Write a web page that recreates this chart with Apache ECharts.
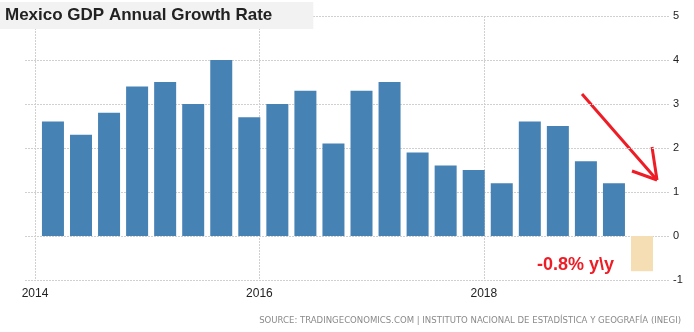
<!DOCTYPE html>
<html>
<head>
<meta charset="utf-8">
<script src="https://cdn.jsdelivr.net/npm/echarts@6/dist/echarts.min.js"></script>
<style>html,body{margin:0;padding:0;background:#fff;}#c{width:694px;height:332px;}</style>
</head>
<body>
<div id="c"></div>
<script>
var quarters = ['2014Q1','2014Q2','2014Q3','2014Q4','2015Q1','2015Q2','2015Q3','2015Q4',
  '2016Q1','2016Q2','2016Q3','2016Q4','2017Q1','2017Q2','2017Q3','2017Q4',
  '2018Q1','2018Q2','2018Q3','2018Q4','2019Q1'];
var growth = [2.6,2.3,2.8,3.4,3.5,3.0,4.0,2.7,3.0,3.3,2.1,3.3,3.5,1.9,1.6,1.5,1.2,2.6,2.5,1.7,1.2];
var forecastQuarter = '2019Q2';
var forecastValue = -0.8;
var yearTicks = [2014, 2016, 2018];
var yTicks = [-1, 0, 1, 2, 3, 4, 5];

function qpos(q){ var y = +q.slice(0,4), n = +q.slice(5); return y + (n-1)*0.25 + 0.16; }

var data = quarters.map(function(q,i){ return [qpos(q), growth[i]]; });
data.push({value:[qpos(forecastQuarter), forecastValue], itemStyle:{color:'#f5deb3'}});

var chart = echarts.init(document.getElementById('c'), null, {renderer:'canvas'});
var grid = {left:25, right:24, top:16, bottom:52};
var ppy = 112.2;
chart.setOption({
  animation:false,
  backgroundColor:'#fff',
  title:{
    text:'Mexico GDP Annual Growth Rate',
    left:0, top:2,
    padding:[5,41,5,5],
    backgroundColor:'#f2f2f2',
    textStyle:{fontFamily:'Liberation Sans, Arial', fontSize:17, fontWeight:'bold', color:'#222'}
  },
  grid:grid,
  xAxis:{
    type:'value',
    min: yearTicks[0] - 10/ppy,
    max: yearTicks[0] + 635/ppy,
    axisLine:{show:false},
    axisTick:{show:false, customValues:yearTicks},
    axisLabel:{customValues:yearTicks, formatter:function(v){return String(Math.round(v));},
      fontFamily:'Liberation Sans, Arial', fontSize:12, color:'#222', margin:8},
    splitLine:{show:true, lineStyle:{color:'#d0d0d0', type:[2,1], width:1}}
  },
  yAxis:{
    type:'value', position:'right',
    min:yTicks[0], max:yTicks[yTicks.length-1], interval:1,
    axisLine:{show:false}, axisTick:{show:false},
    axisLabel:{fontFamily:'Liberation Sans, Arial', fontSize:11, color:'#222', margin:3},
    splitLine:{show:true, lineStyle:{color:'#d0d0d0', type:[2,1], width:1}}
  },
  series:[{
    type:'bar', data:data, barWidth:22,
    itemStyle:{color:'#4682b4'}
  }],
  graphic:[
    {type:'text', left:537, top:256, style:{text:'-0.8% y\\y', fill:'#ee1c25',
      font:'bold 18px "Liberation Sans", Arial'}},
    {type:'polyline', shape:{points:[[582,94],[657,180]]}, style:{stroke:'#ee1c25', lineWidth:3, fill:null}},
    {type:'polyline', shape:{points:[[652,147],[657,180]]}, style:{stroke:'#ee1c25', lineWidth:3, fill:null}},
    {type:'polyline', shape:{points:[[632,171],[657,180]]}, style:{stroke:'#ee1c25', lineWidth:3, fill:null}},
    {type:'text', right:13, top:316, style:{text:'SOURCE: TRADINGECONOMICS.COM | INSTITUTO NACIONAL DE ESTADÍSTICA Y GEOGRAFÍA (INEGI)',
      fill:'#8a8a8a', font:'9.5px "DejaVu Sans Condensed", "Liberation Sans Narrow", sans-serif'}}
  ]
});
</script>
</body>
</html>
